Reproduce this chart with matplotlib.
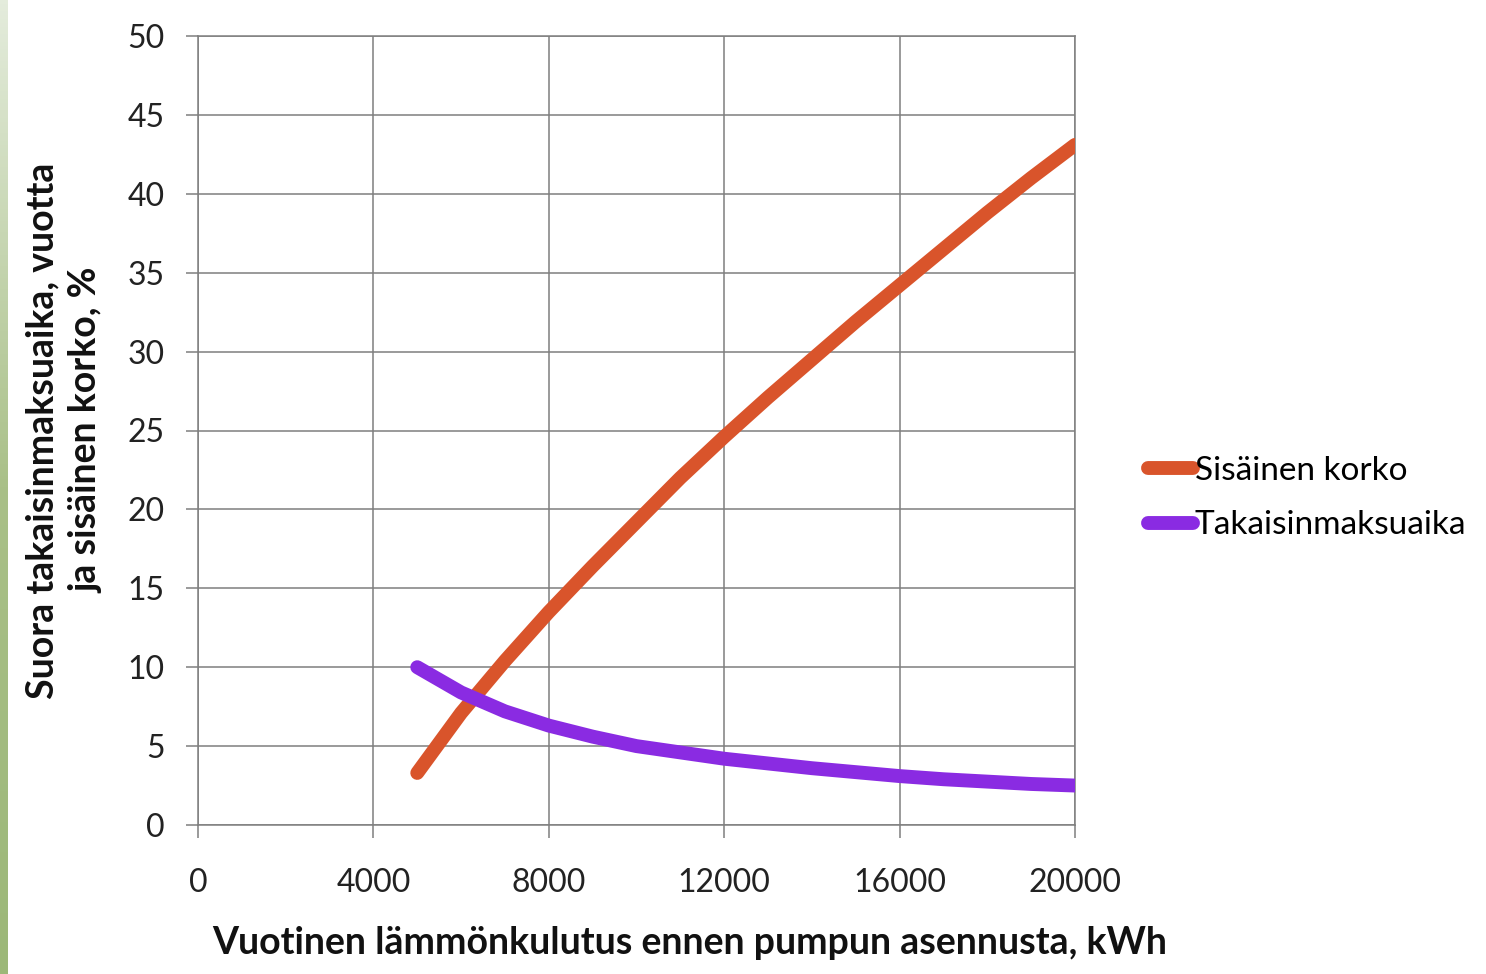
import numpy as np
import matplotlib
matplotlib.use('Agg')
import matplotlib.pyplot as plt

# data
kwh = [5000, 6000, 7000, 8000, 9000, 10000, 11000, 12000,
       13000, 14000, 15000, 16000, 17000, 18000, 19000, 20000]
korko = [3.3, 7.1, 10.4, 13.5, 16.4, 19.2, 22.0, 24.6,
         27.1, 29.5, 31.9, 34.2, 36.5, 38.8, 41.0, 43.1]
takaisin = [10.0, 8.4, 7.2, 6.3, 5.6, 5.0, 4.6, 4.2,
            3.9, 3.6, 3.35, 3.1, 2.9, 2.75, 2.6, 2.5]
xticks = [0, 4000, 8000, 12000, 16000, 20000]
yticks = [0, 5, 10, 15, 20, 25, 30, 35, 40, 45, 50]

plt.rcParams['font.family'] = ['Lato', 'DejaVu Sans']

fig = plt.figure(figsize=(14.86, 9.74), dpi=100)
fig.patch.set_facecolor('white')

# green strip on the left edge (slide background)
strip = fig.add_axes([0, 0, 8 / 1486, 1])
grad = np.linspace(0, 1, 256).reshape(-1, 1)
cmap = matplotlib.colors.LinearSegmentedColormap.from_list(
    'g', ['#e4ecdc', '#a9c088', '#9cb878'])
strip.imshow(grad, aspect='auto', cmap=cmap, extent=[0, 1, 0, 1], origin='upper')
strip.axis('off')

ax = fig.add_axes([198 / 1486, 1 - 825 / 974, 877 / 1486, 789 / 974])
ax.plot(kwh, korko, color='#d9542b', lw=10, solid_capstyle='round',
        solid_joinstyle='round', label='Sisäinen korko', zorder=3)
ax.plot(kwh, takaisin, color='#8a2be2', lw=10, solid_capstyle='round',
        solid_joinstyle='round', label='Takaisinmaksuaika', zorder=3)

ax.set_xlim(0, 20000)
ax.set_ylim(0, 50)
ax.set_xticks(xticks)
ax.set_yticks(yticks)
ax.grid(True, color='#7f7f7f', lw=1.1)
ax.set_axisbelow(True)
for s in ax.spines.values():
    s.set_color('#7f7f7f')
    s.set_linewidth(1.1)
ax.tick_params(axis='both', colors='#7f7f7f', length=9, width=1.1,
               labelcolor='#222222', labelsize=23)
ax.tick_params(axis='y', pad=15)
ax.tick_params(axis='x', pad=22)

ax.set_xlabel('Vuotinen lämmönkulutus ennen pumpun asennusta, kWh',
              fontsize=27, fontweight='bold', color='#111111')
ax.xaxis.set_label_coords(0.561, -0.128)
ax.set_ylabel('Suora takaisinmaksuaika, vuotta\nja sisäinen korko, %',
              fontsize=27, fontweight='bold', color='#111111',
              multialignment='center', linespacing=1.35)
ax.yaxis.set_label_coords(-0.108, 0.5)

# legend text kept fully inside the figure
leg = fig.legend(loc='center left', bbox_to_anchor=(1148 / 1486, 1 - 498 / 974),
                 frameon=False, fontsize=24, handlelength=1.35,
                 handletextpad=0.05, labelspacing=0.75, borderaxespad=0,
                 borderpad=0)

fig.savefig('out.png', dpi=100, facecolor='white')
